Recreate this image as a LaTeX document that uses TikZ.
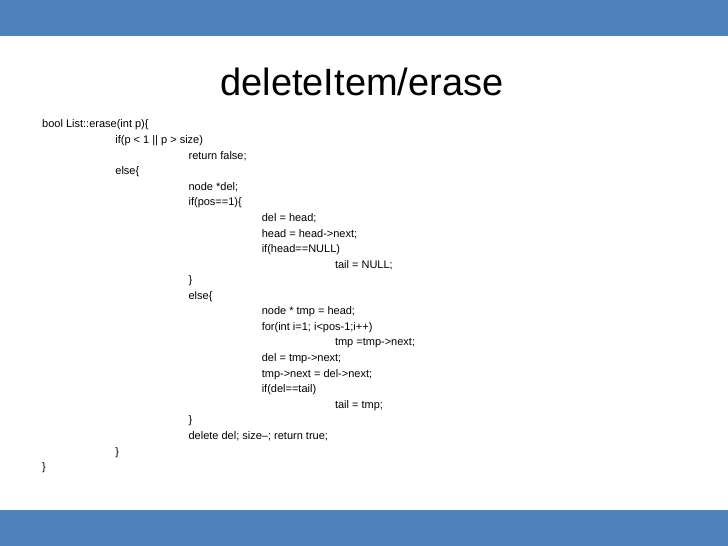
\documentclass[tikz,border=0pt]{standalone}
\usepackage{fontspec}
\setmainfont{Liberation Sans}
\definecolor{barblue}{HTML}{4F81BD}
\begin{document}
\begin{tikzpicture}[x=1pt,y=-1pt,
  codeline/.style={anchor=west,inner sep=0pt,font=\fontsize{11}{13}\selectfont}]
\useasboundingbox (0,0) rectangle (728,546);
\fill[white] (0,0) rectangle (728,546);
\fill[barblue] (0,0) rectangle (728,36);
\fill[barblue] (0,510) rectangle (728,546);
\node[inner sep=0pt,font=\fontsize{38}{42}\selectfont] (title) at (362,82) {deleteItem/erase};
\def\ly{15.58}
\foreach \i/\ind/\txt in {
0/0/{bool List::erase(int p)\{},
1/1/{if(p < 1 || p > size)},
2/2/{return false;},
3/1/{else\{},
4/2/{node *del;},
5/2/{if(pos==1)\{},
6/3/{del = head;},
7/3/{head = head->next;},
8/3/{if(head==NULL)},
9/4/{tail = NULL;},
10/2/{\}},
11/2/{else\{},
12/3/{node * tmp = head;},
13/3/{for(int i=1; i<pos-1;i++)},
14/4/{tmp =tmp->next;},
15/3/{del = tmp->next;},
16/3/{tmp->next = del->next;},
17/3/{if(del==tail)},
18/4/{tail = tmp;},
19/2/{\}},
20/2/{delete del; size--; return true;},
21/1/{\}},
22/0/{\}}}
{\node[codeline] (l\i) at ({42+73.2*\ind},{125+\ly*\i}) {\txt};}
\end{tikzpicture}
\end{document}
